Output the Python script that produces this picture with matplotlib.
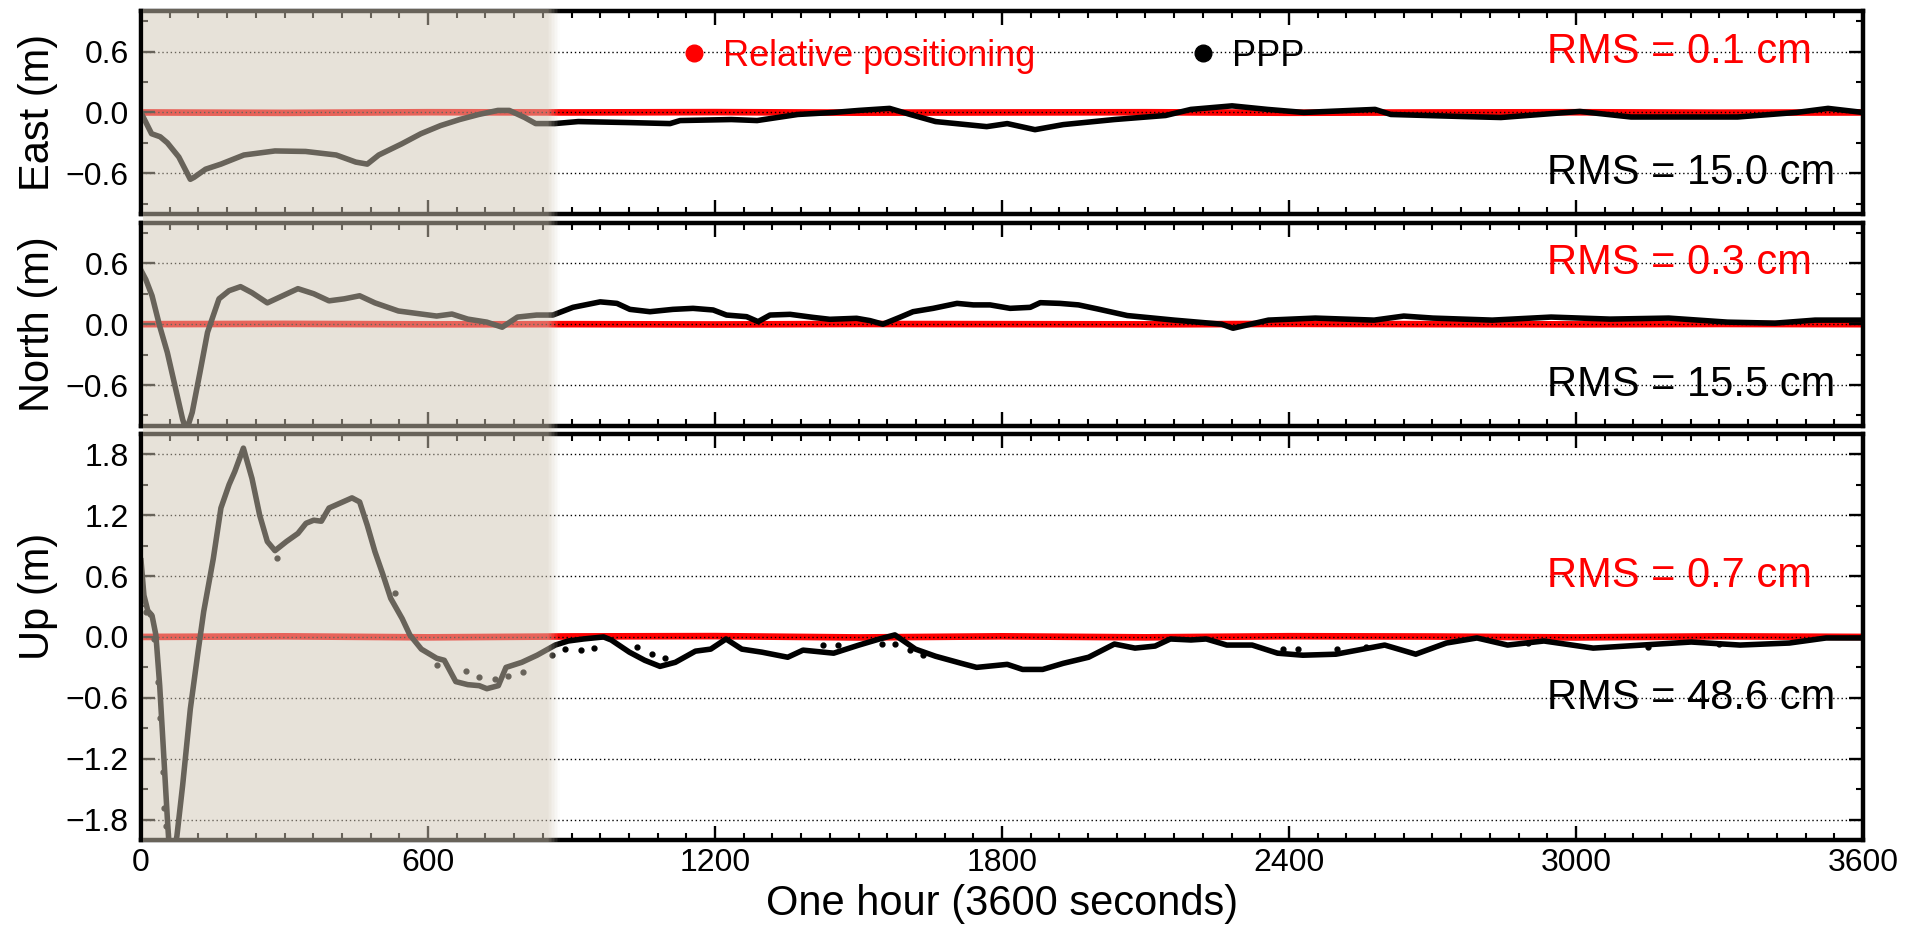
import matplotlib
matplotlib.use("Agg")
import matplotlib.pyplot as plt
import numpy as np
from matplotlib.ticker import MultipleLocator, FuncFormatter
from matplotlib.patches import Rectangle
from matplotlib.transforms import blended_transform_factory
from matplotlib.lines import Line2D

plt.rcParams['font.family'] = ['Liberation Sans', 'DejaVu Sans']

# PPP solution, East (seconds, metres)
ppp_east_t = [0, 5, 22, 40, 55, 79, 103, 111, 135, 167, 215, 280, 344, 408, 449, 473, 497,
              545, 585, 626, 666, 706, 746, 770, 802, 825, 865, 914, 1021, 1106, 1127, 1234,
              1288, 1373, 1448, 1501, 1565, 1608, 1661, 1768, 1811, 1869, 1928, 2035, 2142,
              2195, 2281, 2355, 2431, 2580, 2613, 2761, 2843, 3008, 3115, 3338, 3461, 3527, 3600]
ppp_east = [0.0, -0.05, -0.21, -0.24, -0.30, -0.44, -0.66, -0.64, -0.56, -0.51, -0.42, -0.38,
            -0.385, -0.42, -0.49, -0.51, -0.42, -0.31, -0.21, -0.13, -0.07, -0.02, 0.02, 0.02,
            -0.05, -0.11, -0.11, -0.09, -0.10, -0.11, -0.08, -0.07, -0.08, -0.02, 0.0, 0.02,
            0.04, -0.02, -0.09, -0.14, -0.11, -0.17, -0.12, -0.07, -0.03, 0.03, 0.065, 0.03,
            0.0, 0.03, -0.02, -0.04, -0.05, 0.01, -0.045, -0.045, 0.0, 0.04, 0.0]

# PPP solution, North
ppp_north_t = [0, 10, 23, 39, 55, 71, 87, 95, 107, 123, 139, 163, 184, 208, 232, 264, 296, 328,
               361, 393, 425, 457, 489, 538, 586, 618, 650, 683, 723, 755, 787, 827, 861, 903,
               960, 995, 1022, 1064, 1112, 1154, 1196, 1224, 1266, 1290, 1315, 1357, 1405,
               1440, 1496, 1524, 1551, 1586, 1614, 1656, 1706, 1740, 1775, 1817, 1859, 1880,
               1921, 1960, 2000, 2062, 2160, 2259, 2283, 2357, 2455, 2578, 2640, 2701, 2825,
               2948, 3071, 3194, 3317, 3416, 3500, 3600]
ppp_north = [0.53, 0.44, 0.28, -0.02, -0.28, -0.61, -0.94, -1.05, -0.87, -0.48, -0.08, 0.25,
             0.33, 0.37, 0.31, 0.21, 0.28, 0.35, 0.30, 0.23, 0.25, 0.28, 0.21, 0.13, 0.10, 0.08,
             0.10, 0.05, 0.02, -0.03, 0.07, 0.09, 0.09, 0.166, 0.22, 0.205, 0.146, 0.123, 0.146,
             0.156, 0.14, 0.09, 0.074, 0.025, 0.09, 0.097, 0.067, 0.048, 0.058, 0.035, 0.0,
             0.067, 0.123, 0.156, 0.205, 0.19, 0.19, 0.156, 0.166, 0.212, 0.205, 0.19, 0.15,
             0.085, 0.04, 0.0, -0.04, 0.04, 0.06, 0.04, 0.08, 0.06, 0.04, 0.07, 0.05, 0.06,
             0.02, 0.01, 0.04, 0.04]

# PPP solution, Up
ppp_up_t = [0, 6, 14, 23, 31, 39, 47, 55, 62, 75, 87, 103, 119, 131, 151, 167, 184, 196, 214,
            232, 248, 264, 280, 304, 328, 345, 361, 377, 393, 417, 441, 457, 473, 489, 506, 522,
            546, 562, 586, 618, 634, 658, 683, 707, 723, 747, 763, 796, 828, 866, 893, 925, 967,
            983, 1021, 1053, 1085, 1117, 1159, 1191, 1223, 1256, 1298, 1352, 1384, 1448, 1501,
            1544, 1576, 1619, 1661, 1715, 1747, 1811, 1843, 1885, 1928, 1981, 2035, 2078, 2120,
            2152, 2195, 2227, 2270, 2323, 2376, 2429, 2498, 2600, 2665, 2729, 2793, 2857, 2933,
            3036, 3138, 3241, 3343, 3446, 3523, 3600]
ppp_up = [0.75, 0.41, 0.26, 0.21, 0.02, -0.48, -1.13, -1.79, -2.3, -1.96, -1.46, -0.71, -0.15,
          0.25, 0.77, 1.27, 1.50, 1.63, 1.86, 1.56, 1.20, 0.94, 0.85, 0.94, 1.02, 1.12, 1.15,
          1.14, 1.27, 1.32, 1.37, 1.33, 1.10, 0.84, 0.61, 0.38, 0.18, 0.02, -0.12, -0.21, -0.23,
          -0.44, -0.47, -0.48, -0.51, -0.48, -0.30, -0.25, -0.18, -0.08, -0.04, -0.02, 0.0,
          -0.03, -0.15, -0.23, -0.29, -0.25, -0.14, -0.12, -0.02, -0.12, -0.15, -0.20, -0.13,
          -0.16, -0.08, -0.02, 0.02, -0.12, -0.19, -0.26, -0.30, -0.27, -0.32, -0.32, -0.26,
          -0.20, -0.07, -0.11, -0.09, -0.02, -0.03, -0.02, -0.08, -0.08, -0.16, -0.18, -0.17,
          -0.08, -0.17, -0.06, -0.01, -0.08, -0.04, -0.11, -0.08, -0.05, -0.08, -0.06, -0.01,
          -0.01]

# scattered PPP epochs off the main Up track
ppp_up_dot_t = [10, 18, 27, 35, 40, 45, 49, 52, 284, 530, 618, 679, 707, 739, 767, 799, 860,
                887, 919, 946, 1037, 1069, 1095, 1426, 1458, 1549, 1576, 1608, 1635, 2387, 2419,
                2500, 2560, 2900, 3150, 3300]
ppp_up_dot = [0.25, 0.23, -0.02, -0.44, -0.8, -1.33, -1.69, -1.86, 0.78, 0.43, -0.28, -0.34,
              -0.39, -0.41, -0.38, -0.35, -0.18, -0.115, -0.13, -0.11, -0.10, -0.17, -0.21,
              -0.08, -0.076, -0.066, -0.07, -0.13, -0.18, -0.115, -0.115, -0.12, -0.10, -0.06,
              -0.10, -0.07]

# Relative positioning
rel_t = [0, 300, 600, 900, 1200, 1500, 1800, 2100, 2400, 2700, 3000, 3300, 3600]
rel_east = [0.0, -0.004, 0.002, 0.0, 0.003, -0.002, 0.0, 0.002, -0.003, 0.0, 0.002, -0.002, 0.0]
rel_north = [0.0, 0.003, -0.002, 0.0, -0.003, 0.002, 0.0, -0.002, 0.003, 0.0, -0.002, 0.002, 0.0]
rel_up = [0.0, 0.006, -0.004, 0.005, 0.008, -0.005, 0.006, -0.004, 0.007, 0.004, -0.005, 0.006, 0.0]

panel_names = ["East (m)", "North (m)", "Up (m)"]
rms_rel = ["RMS = 0.1 cm", "RMS = 0.3 cm", "RMS = 0.7 cm"]
rms_ppp = ["RMS = 15.0 cm", "RMS = 15.5 cm", "RMS = 48.6 cm"]
xticks = [0, 600, 1200, 1800, 2400, 3000, 3600]

shade_end = 863
shade_color = '#D1C7B5'
tick_fs = 23
label_fs = 30


def minus_fmt(v, pos):
    s = '%.1f' % v
    if s == '-0.0':
        s = '0.0'
    return s.replace('-', '\u2212')


fig = plt.figure(figsize=(19.19, 9.27), dpi=100)
ax1 = fig.add_axes([0.0735, 0.7694, 0.8973, 0.2186])
ax2 = fig.add_axes([0.0735, 0.5409, 0.8973, 0.2188])
ax3 = fig.add_axes([0.0735, 0.0939, 0.8973, 0.4380])
axes = [ax1, ax2, ax3]

ppp_data = [(ppp_east_t, ppp_east), (ppp_north_t, ppp_north), (ppp_up_t, ppp_up)]
rel_data = [rel_east, rel_north, rel_up]
ylims = [(-1, 1), (-1, 1), (-2, 2)]

for i, ax in enumerate(axes):
    ax.plot(rel_t, rel_data[i], color='red', lw=4.8, solid_capstyle='butt', zorder=2)
    ax.plot(ppp_data[i][0], ppp_data[i][1], color='black', lw=4.0, zorder=2.2)
    ax.set_xlim(0, 3600)
    ax.set_ylim(*ylims[i])
    ax.xaxis.set_major_locator(MultipleLocator(600))
    ax.xaxis.set_minor_locator(MultipleLocator(60))
    ax.yaxis.set_major_locator(MultipleLocator(0.6))
    ax.yaxis.set_minor_locator(MultipleLocator(0.3))
    ax.yaxis.set_major_formatter(FuncFormatter(minus_fmt))
    ax.tick_params(which='both', direction='in', top=True, right=True, labelsize=tick_fs)
    ax.tick_params(which='major', length=10, width=1.7)
    ax.tick_params(which='minor', length=5, width=1.5)
    ax.tick_params(axis='y', pad=9)
    ax.tick_params(axis='x', pad=6)
    for sp in ax.spines.values():
        sp.set_linewidth(3.2)
    ax.set_axisbelow(False)
    ax.grid(axis='y', which='major', color='black', linestyle=(0, (1, 2)), lw=1.0)
    ax.set_ylabel(panel_names[i], fontsize=label_fs)
    ax.yaxis.set_label_coords(-0.048, 0.6 if i == 2 else 0.5)
    tr = ax.get_yaxis_transform()
    ax.text(0.8165, 0.6, rms_rel[i], color='red', fontsize=label_fs, va='center', ha='left',
            transform=tr)
    ax.text(0.8165, -0.6, rms_ppp[i], color='black', fontsize=label_fs, va='center', ha='left',
            transform=tr)
    if i < 2:
        ax.tick_params(axis='x', labelbottom=False)

ax3.plot(ppp_up_dot_t, ppp_up_dot, 'o', color='black', ms=3.5, zorder=2.2)
ax3.set_xticks(xticks)
ax3.set_xlabel("One hour (3600 seconds)", fontsize=label_fs, labelpad=4)

handles = [Line2D([], [], marker='o', ls='none', color='red', ms=12),
           Line2D([], [], marker='o', ls='none', color='black', ms=12)]
leg = ax1.legend(handles, ["Relative positioning", "PPP"], ncol=2, frameon=False,
                 loc='center left', bbox_to_anchor=(0.316, 0.776), fontsize=26,
                 handlelength=0.5, handletextpad=0.55, columnspacing=4.4,
                 borderpad=0, borderaxespad=0)
for txt, col in zip(leg.get_texts(), ['red', 'black']):
    txt.set_color(col)

# convergence period overlay, spanning all three panels
trans = blended_transform_factory(ax3.transData, fig.transFigure)
y0 = 1 - 842 / 927
y1 = 1 - 9 / 927
fig.add_artist(Rectangle((4, y0), shade_end - 13 - 4, y1 - y0, transform=trans,
                         facecolor=shade_color, edgecolor='none', alpha=0.5, zorder=10))
edge = np.linspace(shade_end - 13, shade_end + 13, 9)
for k in range(8):
    a = 0.5 * (1 - (k + 0.5) / 8)
    fig.add_artist(Rectangle((edge[k], y0), edge[k + 1] - edge[k], y1 - y0, transform=trans,
                             facecolor=shade_color, edgecolor='none', alpha=a, zorder=10))

plt.savefig("out.png", dpi=100)
